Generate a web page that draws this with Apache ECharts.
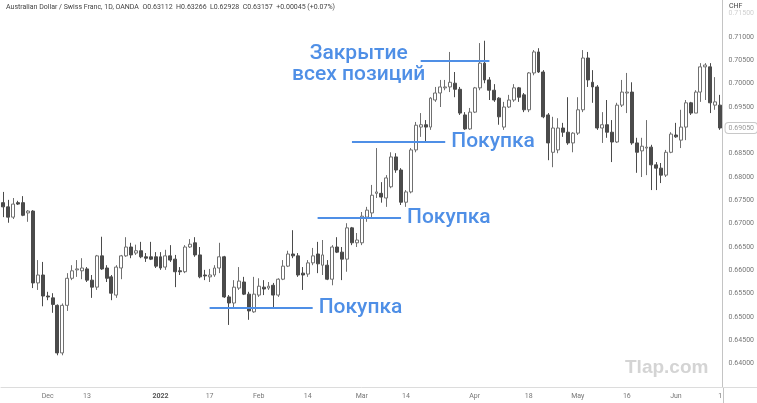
<!DOCTYPE html>
<html>
<head>
<meta charset="utf-8">
<script src="https://cdn.jsdelivr.net/npm/echarts@6/dist/echarts.min.js"></script>
<style>
  html, body { margin: 0; padding: 0; background: #fff; }
  #chart { width: 757px; height: 403px; }
</style>
</head>
<body>
<div id="chart"></div>
<script>
// daily candles, AUD/CHF, [open, close, low, high]
const candles = [
  [0.6745,0.6736,0.6714,0.6768],[0.6736,0.6714,0.6702,0.6751],[0.6714,0.6742,0.6710,0.6755],[0.6745,0.6742,0.6740,0.6749],
  [0.6745,0.6718,0.6716,0.6759],[0.6723,0.6727,0.6704,0.6729],[0.6727,0.6573,0.6562,0.6729],[0.6573,0.6590,0.6558,0.6622],
  [0.6590,0.6545,0.6523,0.6618],[0.6545,0.6543,0.6536,0.6554],[0.6541,0.6527,0.6509,0.6551],[0.6525,0.6423,0.6418,0.6527],
  [0.6423,0.6525,0.6418,0.6529],[0.6525,0.6583,0.6513,0.6594],[0.6583,0.6599,0.6579,0.6611],[0.6601,0.6603,0.6586,0.6622],
  [0.6599,0.6605,0.6581,0.6626],[0.6603,0.6579,0.6575,0.6607],[0.6579,0.6564,0.6541,0.6590],[0.6564,0.6631,0.6558,0.6633],
  [0.6631,0.6603,0.6601,0.6672],[0.6605,0.6583,0.6575,0.6611],[0.6586,0.6551,0.6536,0.6590],[0.6547,0.6607,0.6541,0.6611],
  [0.6605,0.6631,0.6581,0.6633],[0.6631,0.6650,0.6629,0.6671],[0.6650,0.6633,0.6626,0.6659],[0.6637,0.6642,0.6633,0.6655],
  [0.6642,0.6629,0.6626,0.6661],[0.6629,0.6626,0.6618,0.6637],[0.6629,0.6624,0.6622,0.6661],[0.6629,0.6609,0.6605,0.6639],
  [0.6629,0.6605,0.6601,0.6639],[0.6607,0.6631,0.6601,0.6644],[0.6631,0.6622,0.6618,0.6654],[0.6624,0.6597,0.6564,0.6633],
  [0.6599,0.6597,0.6590,0.6607],[0.6597,0.6650,0.6594,0.6654],[0.6650,0.6656,0.6648,0.6667],[0.6659,0.6633,0.6629,0.6671],
  [0.6633,0.6586,0.6583,0.6650],[0.6590,0.6588,0.6579,0.6601],[0.6586,0.6590,0.6575,0.6603],[0.6590,0.6605,0.6586,0.6611],
  [0.6605,0.6629,0.6594,0.6659],[0.6629,0.6543,0.6541,0.6631],[0.6543,0.6530,0.6483,0.6547],[0.6530,0.6564,0.6519,0.6579],
  [0.6562,0.6577,0.6558,0.6607],[0.6575,0.6549,0.6547,0.6586],[0.6549,0.6513,0.6494,0.6554],[0.6511,0.6549,0.6509,0.6586],
  [0.6547,0.6566,0.6543,0.6583],[0.6564,0.6560,0.6547,0.6579],[0.6562,0.6566,0.6558,0.6575],[0.6568,0.6547,0.6521,0.6573],
  [0.6547,0.6581,0.6543,0.6583],[0.6581,0.6609,0.6579,0.6622],[0.6609,0.6635,0.6607,0.6642],[0.6635,0.6631,0.6626,0.6686],
  [0.6631,0.6590,0.6586,0.6637],[0.6594,0.6590,0.6558,0.6607],[0.6592,0.6616,0.6586,0.6622],[0.6616,0.6631,0.6611,0.6648],
  [0.6635,0.6614,0.6594,0.6661],[0.6611,0.6633,0.6590,0.6665],[0.6611,0.6581,0.6579,0.6622],[0.6581,0.6650,0.6568,0.6654],
  [0.6650,0.6639,0.6637,0.6671],[0.6639,0.6624,0.6579,0.6650],[0.6624,0.6691,0.6597,0.6701],[0.6691,0.6659,0.6654,0.6693],
  [0.6659,0.6665,0.6650,0.6680],[0.6659,0.6716,0.6654,0.6725],[0.6714,0.6729,0.6704,0.6736],[0.6723,0.6761,0.6714,0.6783],
  [0.6765,0.6768,0.6755,0.6862],[0.6765,0.6757,0.6745,0.6789],[0.6755,0.6798,0.6736,0.6804],[0.6779,0.6843,0.6776,0.6853],
  [0.6843,0.6815,0.6809,0.6851],[0.6815,0.6746,0.6740,0.6819],[0.6746,0.6768,0.6736,0.6772],[0.6768,0.6858,0.6765,0.6862],
  [0.6858,0.6911,0.6853,0.6918],[0.6907,0.6912,0.6886,0.6937],[0.6912,0.6907,0.6873,0.6922],[0.6907,0.6969,0.6901,0.6971],
  [0.6965,0.6980,0.6961,0.6993],[0.6980,0.6993,0.6950,0.7008],[0.6991,0.6993,0.6986,0.7008],[0.6993,0.7003,0.6982,0.7068],
  [0.7001,0.6988,0.6971,0.7025],[0.6988,0.6937,0.6933,0.6993],[0.6933,0.6903,0.6901,0.6939],[0.6903,0.6939,0.6901,0.6948],
  [0.6939,0.6991,0.6937,0.6993],[0.6991,0.7044,0.6986,0.7087],[0.7044,0.7008,0.7001,0.7092],[0.7008,0.6986,0.6965,0.7014],
  [0.6986,0.6965,0.6961,0.6999],[0.6969,0.6929,0.6912,0.6971],[0.6907,0.6950,0.6901,0.6961],[0.6950,0.6965,0.6948,0.6976],
  [0.6965,0.6991,0.6961,0.6999],[0.6991,0.6971,0.6961,0.6993],[0.6976,0.6944,0.6939,0.6980],[0.6944,0.7023,0.6939,0.7025],
  [0.7023,0.7068,0.7018,0.7072],[0.7068,0.7025,0.7023,0.7076],[0.7025,0.6929,0.6926,0.7029],[0.6933,0.6873,0.6836,0.6937],
  [0.6853,0.6905,0.6821,0.6929],[0.6858,0.6905,0.6851,0.6926],[0.6905,0.6896,0.6886,0.6916],[0.6896,0.6873,0.6869,0.6971],
  [0.6873,0.6894,0.6853,0.6896],[0.6894,0.6944,0.6890,0.6971],[0.6944,0.7055,0.6939,0.7072],[0.7055,0.7008,0.6993,0.7068],
  [0.7003,0.6993,0.6959,0.7029],[0.6993,0.6905,0.6901,0.6997],[0.6905,0.6912,0.6873,0.6939],[0.6912,0.6896,0.6884,0.6965],
  [0.6896,0.6875,0.6832,0.6922],[0.6875,0.6954,0.6873,0.6959],[0.6954,0.6982,0.6950,0.7008],[0.6980,0.6982,0.6937,0.7023],
  [0.6982,0.6873,0.6869,0.7003],[0.6873,0.6853,0.6809,0.6884],[0.6856,0.6866,0.6800,0.6884],[0.6862,0.6864,0.6804,0.6922],
  [0.6864,0.6826,0.6772,0.6869],[0.6826,0.6819,0.6772,0.6832],[0.6819,0.6804,0.6787,0.6830],[0.6804,0.6853,0.6800,0.6858],
  [0.6853,0.6892,0.6851,0.6896],[0.6890,0.6886,0.6884,0.6916],[0.6879,0.6907,0.6862,0.6944],[0.6907,0.6959,0.6879,0.6965],
  [0.6959,0.6937,0.6933,0.6961],[0.6937,0.6982,0.6937,0.6986],[0.6982,0.7036,0.6961,0.7044],[0.7036,0.7040,0.6965,0.7044],
  [0.7036,0.6959,0.6937,0.7044],[0.6954,0.6961,0.6944,0.7014],[0.6954,0.6905,0.6901,0.6976]
];

// date labels shown under the candles: [candle index, text]
const xTickLabels = [
  [9, 'Dec'], [17, '13'], [32, '2022'], [42, '17'], [52, 'Feb'], [62, '14'], [73, 'Mar'],
  [82, '14'], [96, 'Apr'], [107, '18'], [117, 'May'], [127, '16'], [137, 'Jun'], [146, '1']
];

// annotation levels: [from index, to index, price]
const buyLevels = [[42, 63, 0.6519], [64, 81, 0.6713], [71, 90, 0.6876]];
const closeLevel = [85, 99, 0.7049];

const titleText = 'Australian Dollar / Swiss Franc, 1D, OANDA  O0.63112  H0.63266  L0.62928  C0.63157  +0.00045 (+0.07%)';

const categories = candles.map((_, i) => String(i));
const tickMap = {};
xTickLabels.forEach(([i, t]) => { tickMap[i] = t; });
const lastClose = candles[candles.length - 1][1];

const BLUE = '#4f8fe6';
const FONT = 'Roboto, "Liberation Sans", sans-serif';
const NOTE_FONT = 'Roboto, "Liberation Sans", Arial, sans-serif';

const chart = echarts.init(document.getElementById('chart'));

const markData = buyLevels.map(([a, b, p]) => [
  {
    coord: [String(a), p],
    label: {
      show: true, position: 'end', distance: 6, formatter: 'Покупка',
      color: BLUE, fontSize: 21, fontWeight: 500, fontFamily: NOTE_FONT
    }
  },
  { coord: [String(b), p] }
]);
markData.push([
  {
    coord: [String(closeLevel[0]), closeLevel[2]],
    label: {
      show: true, position: 'start', distance: 62, align: 'center', offset: [0, 3],
      formatter: 'Закрытие\nвсех позиций', lineHeight: 21,
      color: BLUE, fontSize: 21, fontWeight: 500, fontFamily: NOTE_FONT
    }
  },
  { coord: [String(closeLevel[1]), closeLevel[2]] }
]);

chart.setOption({
  animation: false,
  backgroundColor: '#fff',
  grid: { left: 1, right: 34, top: 0, bottom: 16 },
  xAxis: {
    type: 'category',
    data: categories,
    boundaryGap: true,
    axisLine: { show: true, lineStyle: { color: '#dcdcdc', width: 1 } },
    axisTick: { show: false },
    splitLine: { show: false },
    axisLabel: {
      interval: (idx) => tickMap[idx] !== undefined,
      formatter: (v, idx) => {
        const t = tickMap[idx];
        if (t === undefined) return '';
        return t === '2022' ? '{b|2022}' : t;
      },
      rich: { b: { fontWeight: 'bold', color: '#555', fontSize: 7, fontFamily: FONT } },
      color: '#777', fontSize: 7, fontFamily: FONT, margin: 6,
      hideOverlap: false
    }
  },
  yAxis: {
    type: 'value',
    position: 'right',
    min: 0.635,
    max: 0.71793,
    interval: 0.005,
    axisLine: { show: true, lineStyle: { color: '#c4c4c4', width: 1 } },
    axisTick: { show: false },
    splitLine: { show: false },
    axisLabel: {
      margin: 6,
      color: '#777', fontSize: 7, fontFamily: FONT,
      formatter: (v) => {
        if (v < 0.6375 || v > 0.7165) return '';
        if (Math.abs(v - 0.69) < 1e-6) return '';
        if (Math.abs(v - 0.715) < 1e-6) return '{f|' + v.toFixed(5) + '}';
        return v.toFixed(5);
      },
      rich: { f: { color: '#d0d0d0', fontSize: 7, fontFamily: FONT } }
    },
    // last price tag on the price scale
    axisPointer: {
      show: true,
      value: lastClose,
      status: 'show',
      triggerTooltip: false,
      lineStyle: { color: 'rgba(0,0,0,0)', width: 0 },
      label: {
        show: true,
        formatter: (p) => Number(p.value).toFixed(5),
        color: '#9a9a9a', fontSize: 7, fontFamily: FONT,
        backgroundColor: '#fff', borderColor: '#c8c8c8', borderWidth: 1,
        padding: [2, 3, 1, 3], margin: 4
      },
      handle: { show: false }
    }
  },
  series: [{
    type: 'candlestick',
    data: candles,
    barWidth: '70%',
    itemStyle: {
      color: '#ffffff',
      color0: '#4b4b4b',
      borderColor: '#707070',
      borderColor0: '#4b4b4b',
      borderWidth: 1
    },
    markLine: {
      silent: true,
      symbol: ['none', 'none'],
      lineStyle: { color: BLUE, width: 2, type: 'solid' },
      data: markData
    }
  }],
  graphic: [
    { type: 'text', left: 6, top: 4, style: { text: titleText, fill: '#444', font: '7px ' + FONT } },
    { type: 'text', left: 729, top: 3, style: { text: 'CHF', fill: '#444', font: '7px ' + FONT } },
    { type: 'text', left: 625, top: 358, style: { text: 'Tlap.com', fill: '#d4d4d4', font: 'bold 19px "Liberation Sans", Arial, sans-serif' } },
    { type: 'line', shape: { x1: 723.5, y1: 387, x2: 723.5, y2: 403 }, style: { stroke: '#c4c4c4', lineWidth: 1 } },
    { type: 'line', shape: { x1: 723, y1: 387.5, x2: 757, y2: 387.5 }, style: { stroke: '#dcdcdc', lineWidth: 1 } }
  ]
});
</script>
</body>
</html>
